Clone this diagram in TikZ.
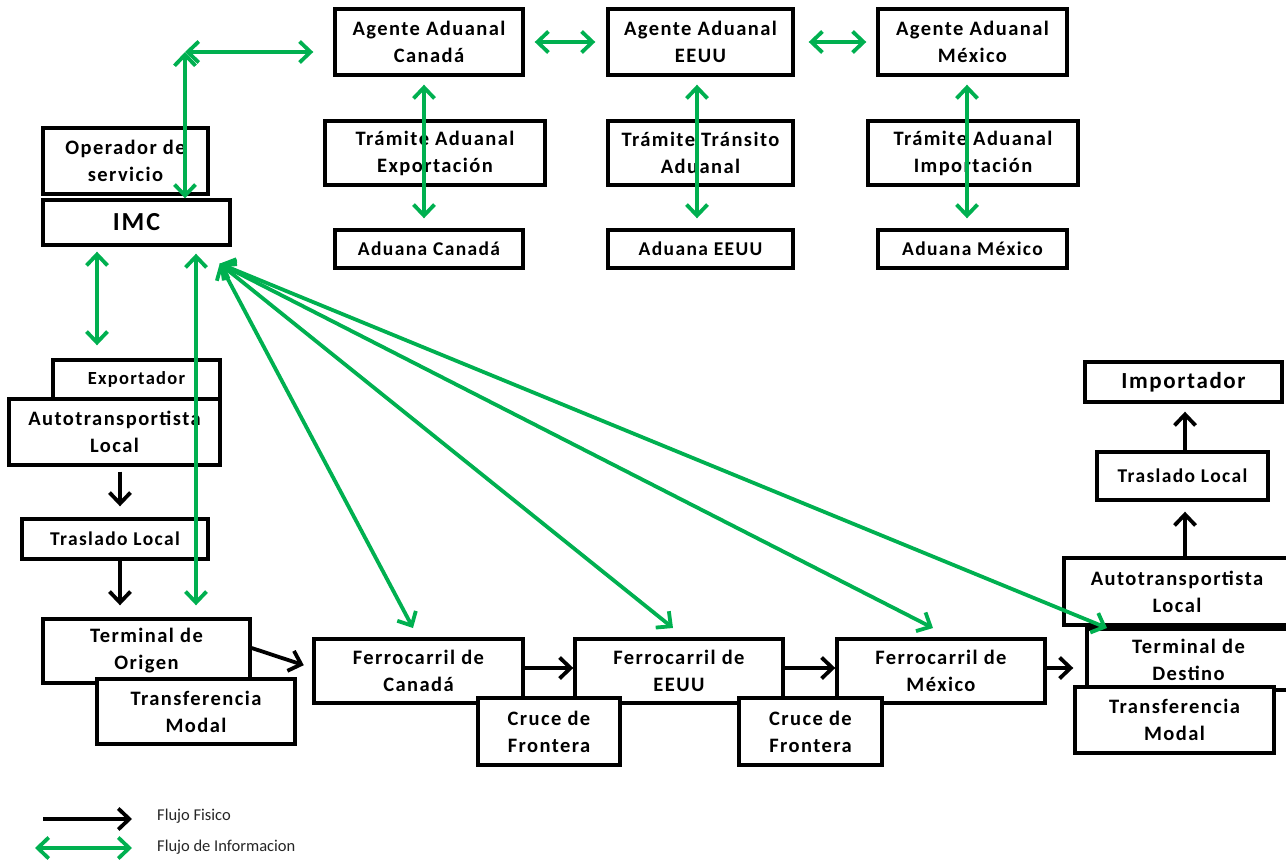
\documentclass[tikz,border=0pt]{standalone}
\usepackage{fontspec}
\setmainfont{Carlito}
\newfontfamily\boxfont{Carlito}[LetterSpace=7]
\usetikzlibrary{arrows.meta}
\definecolor{infogreen}{RGB}{0,176,80}
\tikzset{
  box/.style={draw=black, line width=3.4pt, fill=white, inner sep=0pt, align=center,
    font=\boxfont\bfseries\fontsize{20.5}{27}\selectfont},
  small/.style={font=\boxfont\bfseries\fontsize{19.5}{24}\selectfont},
  physarrow/.style={draw=black, line width=3.8pt, -{Straight Barb[length=11pt,width=21pt]}},
  infoarrow/.style={draw=infogreen, line width=3.8pt,
    {Straight Barb[length=11pt,width=21pt]}-{Straight Barb[length=11pt,width=21pt]}},
  legendtext/.style={anchor=west, inner sep=0pt, text=black!85, font=\fontsize{16.5}{18}\selectfont},
}
% [options]{name}{x1}{y1}{x2}{y2}{text}
\newcommand\mybox[7][]{%
  \node[box,#1,minimum width={(#5-#3)*1pt},minimum height={(#6-#4)*1pt}]
    (#2) at ({(#3+#5)/2},{(#4+#6)/2}) {#7};}
\begin{document}
\begin{tikzpicture}[x=1pt,y=-1pt]
\useasboundingbox (0,0) rectangle (1286,862);
\clip (0,0) rectangle (1286,862);

% customs agents
\mybox{ageCA}{335}{9}{523}{75}{Agente Aduanal\\Canadá}
\mybox{ageUS}{608}{9}{793}{75}{Agente Aduanal\\EEUU}
\mybox{ageMX}{878}{9}{1067}{75}{Agente Aduanal\\México}
\mybox{traCA}{325}{121}{545}{185}{Trámite Aduanal\\Exportación}
\mybox{traUS}{608}{121}{793}{185}{Trámite Tránsito\\Aduanal}
\mybox{traMX}{868}{121}{1078}{185}{Trámite Aduanal\\Importación}
\mybox[small]{aduCA}{335}{230}{523}{268}{Aduana Canadá}
\mybox[small]{aduUS}{608}{230}{793}{268}{Aduana EEUU}
\mybox[small]{aduMX}{878}{230}{1067}{268}{Aduana México}

% left column
\mybox{oper}{43}{128}{208}{194}{Operador de\\servicio}
\mybox[font=\boxfont\bfseries\fontsize{26}{28}\selectfont]{imc}{43}{200}{230}{245}{IMC}
\mybox[font=\boxfont\bfseries\fontsize{18.5}{20}\selectfont]{expo}{53}{360}{220}{399}{Exportador}
\mybox{autoO}{9}{399}{220}{465}{Autotransportista\\Local}
\mybox[small]{trasO}{22}{519}{208}{559}{Traslado Local}
\mybox{termO}{43}{619}{250}{683}{Terminal de\\Origen}
\mybox{tranO}{97}{679}{295}{744}{Transferencia\\Modal}

% railways
\mybox{ferCA}{314}{639}{523}{703}{Ferrocarril de\\Canadá}
\mybox{ferUS}{575}{639}{783}{703}{Ferrocarril de\\EEUU}
\mybox{ferMX}{837}{639}{1045}{703}{Ferrocarril de\\México}
\mybox{cruA}{478}{698}{620}{765}{Cruce de\\Frontera}
\mybox{cruB}{739}{698}{882}{765}{Cruce de\\Frontera}

% right column
\mybox[font=\boxfont\bfseries\fontsize{23}{26}\selectfont]{impo}{1085}{362}{1282}{402}{Importador}
\mybox[small]{trasD}{1097}{452}{1268}{500}{Traslado Local}
\mybox{autoD}{1064}{558}{1290}{625}{Autotransportista\\Local}
\mybox{termD}{1087}{629}{1290}{690}{Terminal de\\Destino}
\mybox{tranD}{1075}{687}{1274}{753}{Transferencia\\Modal}

% physical flow
\draw[physarrow, shorten <=5pt, shorten >=11pt] ([xshift=5.5pt]autoO.south) -- ([xshift=5pt]trasO.north);
\draw[physarrow, shorten >=12pt] ([xshift=5pt]trasO.south) -- ([xshift=-26.5pt]termO.north);
\draw[physarrow, shorten >=9pt] ([yshift=3pt]termO.east) -- ([yshift=3pt]ferCA.west);
\draw[physarrow] ([yshift=3pt]ferCA.east) -- ([yshift=3pt]ferUS.west);
\draw[physarrow] ([yshift=3pt]ferUS.east) -- ([yshift=3pt]ferMX.west);
\draw[physarrow, shorten >=12pt] ([yshift=3pt]ferMX.east) -- ([yshift=-8.5pt]termD.west);
\draw[physarrow, shorten >=10pt] ([xshift=8pt]autoD.north) -- ([xshift=2.5pt]trasD.south);
\draw[physarrow, shorten >=8pt] ([xshift=2.5pt]trasD.north) -- ([xshift=1.5pt]impo.south);

% information flow
\draw[infoarrow, shorten <=10pt, shorten >=11pt] (ageCA.east) -- (ageUS.west);
\draw[infoarrow, shorten <=14pt, shorten >=10pt] (ageUS.east) -- (ageMX.west);
\draw[infoarrow, shorten <=8pt, shorten >=10pt] ([xshift=-5pt]ageCA.south) -- ([xshift=-5pt]aduCA.north);
\draw[infoarrow, shorten <=8pt, shorten >=10pt] ([xshift=-3.5pt]ageUS.south) -- ([xshift=-3.5pt]aduUS.north);
\draw[infoarrow, shorten <=8pt, shorten >=10pt] ([xshift=-5.5pt]ageMX.south) -- ([xshift=-5.5pt]aduMX.north);

\coordinate (corner) at (185,52);
\draw[infoarrow] (corner) -- ([xshift=48.5pt]imc.north);
\draw[infoarrow, shorten >=20pt] (corner) -- ([yshift=-10pt]ageCA.west);
\draw[infoarrow, shorten <=5pt, shorten >=13pt] ([xshift=-39.5pt]imc.south) -- ([xshift=-39.5pt]expo.north);
\draw[infoarrow, shorten <=7pt, shorten >=12pt] ([xshift=59.5pt]imc.south) -- ([xshift=49.5pt]termO.north);

\coordinate (hub) at ([xshift=-12pt,yshift=-17pt]imc.south east);
\coordinate (tCA) at (413,628);
\coordinate (tUS) at (673,628);
\coordinate (tMX) at (933,628);
\coordinate (tDE) at (1107,628);
\draw[infoarrow] (hub) -- (tCA);
\draw[infoarrow] (hub) -- (tUS);
\draw[infoarrow] (hub) -- (tMX);
\draw[infoarrow] (hub) -- (tDE);

% legend
\coordinate (la1) at (43,819);
\coordinate (lb1) at (132,819);
\coordinate (la2) at (35,848);
\coordinate (lb2) at (132,848);
\draw[physarrow] (la1) -- (lb1);
\draw[infoarrow] (la2) -- (lb2);
\node[legendtext] (leg1) at (157,816) {Flujo Fisico};
\node[legendtext] (leg2) at (157,847) {Flujo de Informacion};
\end{tikzpicture}
\end{document}
